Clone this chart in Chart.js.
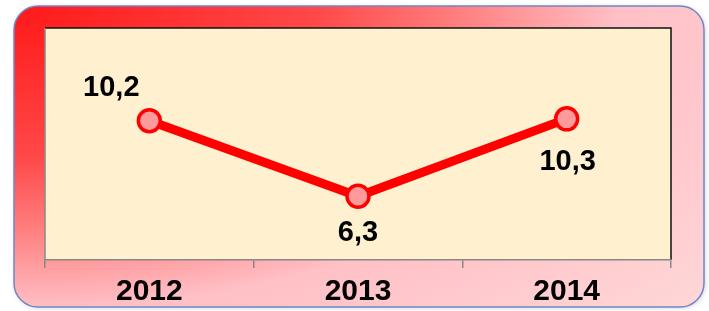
<!DOCTYPE html>
<html>
<head>
<meta charset="utf-8">
<script src="https://cdn.jsdelivr.net/npm/chart.js@4"></script>
<style>
  html, body { margin: 0; padding: 0; background: #fff; }
  #wrap { width: 709px; height: 311px; }
</style>
</head>
<body>
<div id="wrap"><canvas id="myChart" width="709" height="311"></canvas></div>
<script>
// data
const years = ['2012', '2013', '2014']
const values = [10.2, 6.3, 10.3]
const valueLabels = ['10,2', '6,3', '10,3']

const fontFamily = '"Liberation Sans", Arial, sans-serif'

// frame + plot background
const framePlugin = {
  id: 'frame',
  beforeDraw(chart) {
    const ctx = chart.ctx
    const a = chart.chartArea
    ctx.save()
    // outer rounded frame
    const x = 14, y = 6, w = 690, h = 301, r = 24
    ctx.shadowColor = 'rgba(0,0,0,0.18)'
    ctx.shadowBlur = 5
    ctx.shadowOffsetX = 1
    ctx.shadowOffsetY = 1
    ctx.beginPath()
    ctx.roundRect(x, y, w, h, r)
    ctx.save()
    ctx.translate(20, 10)
    ctx.scale(2, 1)
    const g = ctx.createRadialGradient(0, 0, 0, 0, 0, 460)
    g.addColorStop(0, '#ff1a1a')
    g.addColorStop(0.32, '#ff4848')
    g.addColorStop(0.48, '#ff8080')
    g.addColorStop(0.65, '#ffc0c6')
    g.addColorStop(1, '#ffd8d8')
    ctx.fillStyle = g
    ctx.fill()
    ctx.restore()
    ctx.shadowColor = 'transparent'
    ctx.lineWidth = 1.5
    ctx.strokeStyle = '#7086c8'
    ctx.stroke()
    // plot area
    ctx.fillStyle = '#fff0cf'
    ctx.fillRect(a.left, a.top, a.right - a.left, a.bottom - a.top)
    ctx.lineWidth = 1.5
    ctx.strokeStyle = '#111'
    ctx.beginPath()
    ctx.moveTo(a.left, a.top)
    ctx.lineTo(a.right, a.top)
    ctx.lineTo(a.right, a.bottom)
    ctx.stroke()
    ctx.strokeStyle = '#888'
    ctx.beginPath()
    ctx.moveTo(a.left, a.top)
    ctx.lineTo(a.left, a.bottom)
    ctx.stroke()
    ctx.restore()
  }
}

// value labels next to points
const labelOffsets = [[-38, -33], [0, 37], [1, 43]]
const labelPlugin = {
  id: 'valueLabels',
  afterDatasetsDraw(chart) {
    const ctx = chart.ctx
    const meta = chart.getDatasetMeta(0)
    ctx.save()
    ctx.font = 'bold 29px ' + fontFamily
    ctx.fillStyle = '#000'
    ctx.textAlign = 'center'
    ctx.textBaseline = 'middle'
    meta.data.forEach((pt, i) => {
      const o = labelOffsets[i]
      ctx.fillText(valueLabels[i], pt.x + o[0], pt.y + o[1])
    })
    ctx.restore()
  }
}

const ctx = document.getElementById('myChart').getContext('2d')
const myChart = new Chart(ctx, {
  type: 'line',
  data: {
    labels: years,
    datasets: [
      {
        data: values,
        borderColor: '#ff0000',
        borderWidth: 9,
        pointRadius: 11,
        pointBorderWidth: 3.5,
        pointBackgroundColor: '#ff9a9a',
        pointBorderColor: '#ff0000',
        tension: 0
      }
    ]
  },
  options: {
    responsive: false,
    animation: false,
    events: [],
    layout: { padding: { left: 45, right: 38, top: 28, bottom: 0 } },
    plugins: { legend: { display: false }, tooltip: { enabled: false } },
    scales: {
      x: {
        offset: true,
        grid: {
          offset: true,
          drawOnChartArea: false,
          tickLength: 8,
          color: '#888',
          lineWidth: 1.5
        },
        border: { color: '#888', width: 1.5 },
        ticks: {
          color: '#000',
          padding: 6,
          font: { family: fontFamily, size: 30, weight: 'bold' }
        },
        afterFit(scale) { scale.height = 51 }
      },
      y: {
        display: false,
        min: 3,
        max: 15
      }
    }
  },
  plugins: [framePlugin, labelPlugin]
})
</script>
</body>
</html>
